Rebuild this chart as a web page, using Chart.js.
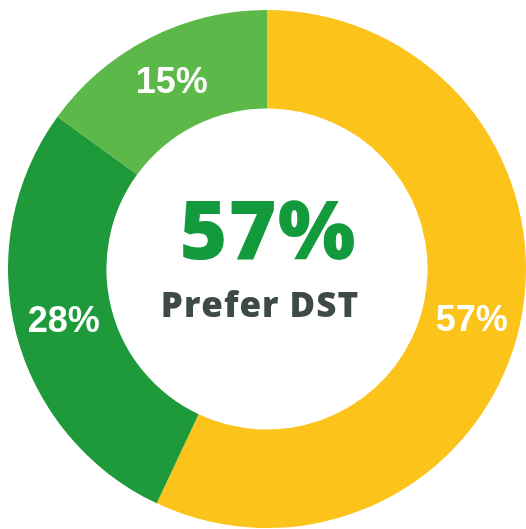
<!DOCTYPE html>
<html>
<head>
<meta charset="utf-8">
<script src="https://cdn.jsdelivr.net/npm/chart.js@4.4.1/dist/chart.umd.min.js"></script>
<style>
    html, body { margin: 0; padding: 0; background: #fff; }
    #wrap { width: 526px; height: 529px; }
</style>
</head>
<body>
<div id="wrap"><canvas id="dst-chart" width="526" height="529"></canvas></div>
<script>
    // Chart data
    const labels = ['Prefer DST', 'Other', 'Undecided'];
    const values = [57, 28, 15];
    const sliceColors = ['#fcc31b', '#1f9a3b', '#5cb849'];
    const centerValue = '57%';
    const centerLabel = 'Prefer DST';

    // Draws the white % label in the middle of each slice
    const sliceLabels = {
        id: 'sliceLabels',
        afterDatasetsDraw(chart) {
            const ctx = chart.ctx;
            const meta = chart.getDatasetMeta(0);
            ctx.save();
            ctx.fillStyle = '#ffffff';
            ctx.font = 'bold 36px "Liberation Sans", Arial, sans-serif';
            ctx.textAlign = 'center';
            ctx.textBaseline = 'middle';
            meta.data.forEach((arc, i) => {
                const pos = arc.tooltipPosition();
                // the big slice label sits a bit lower in the original
                const dy = i === 0 ? 6 : 1;
                ctx.fillText(values[i] + '%', pos.x, pos.y + dy);
            });
            ctx.restore();
        }
    };

    // Big number and caption in the hole
    const centerText = {
        id: 'centerText',
        afterDraw(chart) {
            const ctx = chart.ctx;
            const arc = chart.getDatasetMeta(0).data[0];
            const cx = arc.x, cy = arc.y;
            ctx.save();
            ctx.textAlign = 'center';
            ctx.textBaseline = 'alphabetic';
            ctx.fillStyle = '#129a3c';
            ctx.font = '800 82px "Open Sans", sans-serif';
            ctx.letterSpacing = '1px';
            ctx.fillText(centerValue, cx + 1, cy - 10);
            ctx.fillStyle = '#3e4a47';
            ctx.font = '800 35px "Open Sans", sans-serif';
            ctx.letterSpacing = '1px';
            ctx.fillText(centerLabel, cx - 7, cy + 48);
            ctx.restore();
        }
    };

    new Chart(document.getElementById('dst-chart'), {
        type: 'doughnut',
        data: {
            labels: labels,
            datasets: [{
                data: values,
                backgroundColor: sliceColors,
                borderWidth: 0,
                hoverOffset: 0,
                offset: 0
            }]
        },
        options: {
            responsive: false,
            animation: false,
            cutout: '62%',
            layout: { padding: { left: 8, right: 0, top: 10, bottom: 1 } },
            plugins: {
                legend: { display: false },
                tooltip: { enabled: false }
            }
        },
        plugins: [sliceLabels, centerText]
    });
</script>
</body>
</html>
